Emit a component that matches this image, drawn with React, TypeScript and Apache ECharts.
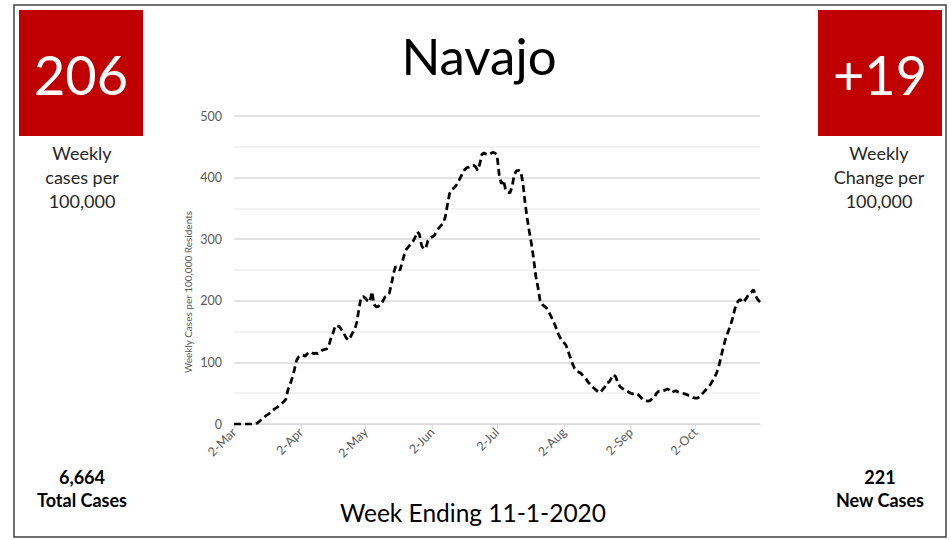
import { useEffect, useRef } from 'react';
import * as echarts from 'echarts';

const MONTHS = ['Jan', 'Feb', 'Mar', 'Apr', 'May', 'Jun', 'Jul', 'Aug', 'Sep', 'Oct', 'Nov', 'Dec'];
const START_DATE = Date.UTC(2020, 2, 2);

// Weekly cases per 100,000 residents, daily from 2-Mar-2020 to 1-Nov-2020
const weeklyCases = [
  0, 0, 0, 0, 0, 0, 0, 0, 0, 0, 0,
  2, 5, 8, 11, 14, 16, 19, 22, 25, 27,
  30, 33, 36, 40, 55, 64, 75, 88, 103, 109,
  111, 112, 110, 114, 117, 116, 114, 115, 114, 117,
  120, 121, 122, 127, 140, 148, 160, 159, 158, 152,
  147, 140, 136, 141, 148, 153, 166, 188, 206, 207,
  204, 200, 198, 215, 194, 190, 191, 195, 199, 206,
  208, 212, 226, 245, 256, 252, 250, 262, 275, 284,
  288, 292, 296, 303, 312, 308, 290, 284, 286, 298,
  302, 304, 306, 314, 318, 322, 326, 336, 356, 374,
  381, 383, 387, 393, 400, 407, 413, 416, 417, 419,
  420, 418, 412, 422, 438, 440, 438, 437, 439, 441,
  440, 437, 405, 390, 396, 380, 376, 375, 385, 405,
  411, 412, 410, 392, 360, 334, 312, 292, 268, 240,
  222, 200, 194, 191, 188, 182, 175, 168, 160, 150,
  142, 136, 132, 128, 118, 108, 98, 90, 87, 84,
  82, 78, 75, 69, 65, 61, 58, 55, 52, 51,
  56, 60, 67, 68, 74, 80, 77, 68, 61, 58,
  56, 54, 52, 50, 49, 50, 49, 46, 42, 39,
  38, 37, 38, 41, 43, 50, 53, 53, 54, 55,
  57, 55, 51, 53, 54, 52, 51, 50, 49, 48,
  46, 45, 43, 42, 42, 44, 48, 52, 56, 60,
  64, 70, 76, 84, 95, 110, 125, 138, 148, 157,
  168, 182, 195, 200, 202, 197, 201, 206, 212, 214,
  218, 208, 202, 198,
];

const categories = weeklyCases.map((_, i) => {
  const d = new Date(START_DATE + i * 86400000);
  return `${d.getUTCDate()}-${MONTHS[d.getUTCMonth()]}`;
});

const TITLE = 'Navajo';
const WEEKLY_CASES = '206';
const WEEKLY_CHANGE = '+19';
const TOTAL_CASES = '6,664';
const NEW_CASES = '221';
const WEEK_ENDING = 'Week Ending 11-1-2020';
const Y_AXIS_NAME = 'Weekly Cases per 100,000 Residents';

const FONT = 'Lato';
const RED = '#C00000';

const isMonthTick = (_i: number, value: string) => value.split('-')[0] === '2';

export default function App() {
  const ref = useRef<HTMLDivElement>(null);
  useEffect(() => {
    if (!ref.current) return;
    const chart = echarts.init(ref.current, null, { renderer: 'svg' });
    const centerText = (text: string, x: number, y: number, size: number, color: string, weight = 'normal', rotation = 0) => ({
      type: 'text',
      x,
      y,
      rotation,
      style: {
        text,
        fill: color,
        font: `${weight} ${size}px ${FONT}`,
        textAlign: 'center',
        textVerticalAlign: 'middle',
      },
    });
    chart.setOption({
      animation: false,
      backgroundColor: '#ffffff',
      grid: { left: 234, right: 191, top: 116, bottom: 116, containLabel: false },
      xAxis: {
        type: 'category',
        data: categories,
        boundaryGap: false,
        axisLine: { show: true, lineStyle: { color: '#d9d9d9', width: 1 } },
        axisTick: { show: true, interval: isMonthTick, length: 5, lineStyle: { color: '#d9d9d9' } },
        axisLabel: {
          interval: isMonthTick,
          rotate: 45,
          color: '#595959',
          fontSize: 12.5,
          fontFamily: FONT,
          margin: 6,
        },
        splitLine: { show: false },
      },
      yAxis: {
        type: 'value',
        min: 0,
        max: 500,
        interval: 100,
        axisLine: { show: false },
        axisTick: { show: false },
        axisLabel: { color: '#595959', fontSize: 12.5, fontFamily: FONT, margin: 12 },
        splitLine: { show: true, lineStyle: { color: '#d9d9d9', width: 1.5 } },
        minorTick: { show: false, splitNumber: 2 },
        minorSplitLine: { show: true, lineStyle: { color: '#eeeeee', width: 1.5 } },
      },
      series: [
        {
          type: 'line',
          data: weeklyCases,
          symbol: 'none',
          smooth: false,
          lineStyle: { color: '#000000', width: 2.75, type: [7, 4] },
        },
      ],
      graphic: [
        { type: 'rect', shape: { x: 14, y: 5, width: 932, height: 532 }, style: { fill: 'none', stroke: '#404040', lineWidth: 1.5 } },
        { type: 'rect', shape: { x: 19, y: 10, width: 124, height: 126 }, style: { fill: RED } },
        { type: 'rect', shape: { x: 818, y: 10, width: 124, height: 126 }, style: { fill: RED } },
        centerText(WEEKLY_CASES, 81, 74, 54, '#ffffff'),
        centerText(WEEKLY_CHANGE, 880, 74, 54, '#ffffff'),
        centerText('Weekly', 82, 153, 18, '#262626'),
        centerText('cases per', 82, 177, 18, '#262626'),
        centerText('100,000', 82, 201, 18, '#262626'),
        centerText('Weekly', 879, 153, 18, '#262626'),
        centerText('Change per', 879, 177, 18, '#262626'),
        centerText('100,000', 879, 201, 18, '#262626'),
        centerText(TITLE, 479, 55, 51, '#000000'),
        centerText(TOTAL_CASES, 82, 477, 18, '#000000', 'bold'),
        centerText('Total Cases', 82, 500, 18, '#000000', 'bold'),
        centerText(NEW_CASES, 880, 477, 18, '#000000', 'bold'),
        centerText('New Cases', 880, 500, 18, '#000000', 'bold'),
        centerText(WEEK_ENDING, 473, 512, 24.5, '#000000'),
        centerText(Y_AXIS_NAME, 188, 292, 10, '#595959', 'normal', Math.PI / 2),
      ],
    });
    return () => chart.dispose();
  }, []);
  return <div ref={ref} style={{ position: 'fixed', left: 0, top: 0, width: 951, height: 540 }} />;
}
